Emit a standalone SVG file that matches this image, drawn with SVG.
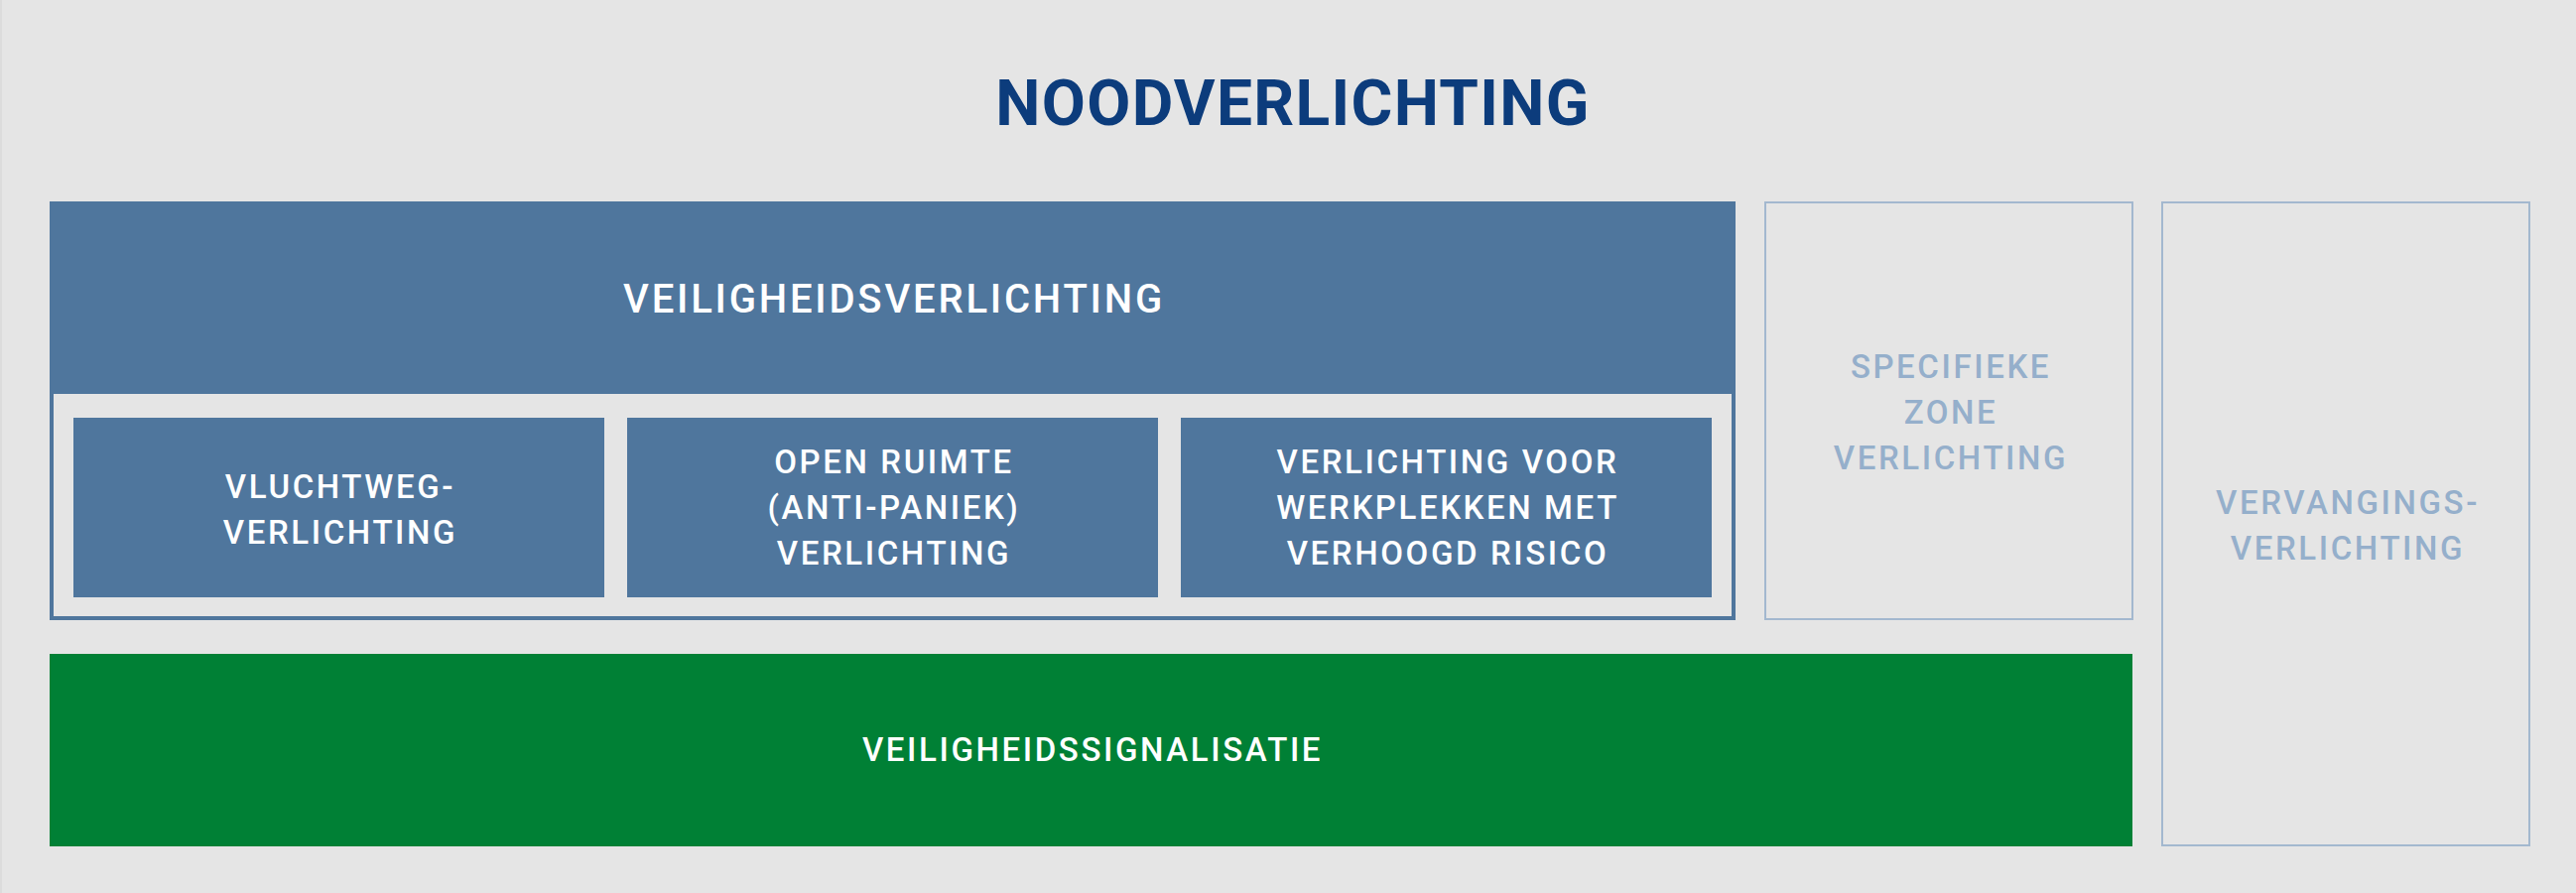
<svg xmlns="http://www.w3.org/2000/svg" width="2596" height="900" viewBox="0 0 2596 900">
<style>
.t{font-family:Roboto,"Liberation Sans",sans-serif;text-anchor:middle}
.title{font-size:64px;font-weight:700;fill:#0c3c7c;letter-spacing:1.3px}
.hd{font-size:40px;font-weight:500;fill:#ffffff;letter-spacing:2.8px}
.sb{font-size:33px;font-weight:500;fill:#ffffff;letter-spacing:2.6px}
.lt{font-size:33px;font-weight:500;fill:#95afcb;letter-spacing:2.6px}
.blue{fill:#4f769d}
.lbox{fill:none;stroke:#a3b8cf;stroke-width:2}
</style>
<rect x="0" y="0" width="2596" height="900" fill="#e5e5e5"/>
<rect x="0" y="0" width="2" height="900" fill="#dcdcdc"/>
<g id="title">
<text class="t title" x="1303" y="126">NOODVERLICHTING</text>
</g>
<g id="veiligheidsverlichting">
<rect x="52" y="205" width="1695" height="418" fill="none" stroke="#4f769d" stroke-width="4"/>
<rect class="blue" x="50" y="203" width="1699" height="194"/>
<text class="t hd" x="901" y="315">VEILIGHEIDSVERLICHTING</text>
</g>
<g id="vluchtweg">
<rect class="blue" x="74" y="421" width="535" height="181"/>
<text class="t sb" x="343" y="501.5">VLUCHTWEG-</text>
<text class="t sb" x="343" y="547.5">VERLICHTING</text>
</g>
<g id="openruimte">
<rect class="blue" x="632" y="421" width="535" height="181"/>
<text class="t sb" x="901" y="477">OPEN RUIMTE</text>
<text class="t sb" x="901" y="523">(ANTI-PANIEK)</text>
<text class="t sb" x="901" y="569">VERLICHTING</text>
</g>
<g id="werkplekken">
<rect class="blue" x="1190" y="421" width="535" height="181"/>
<text class="t sb" x="1459" y="477">VERLICHTING VOOR</text>
<text class="t sb" x="1459" y="523">WERKPLEKKEN MET</text>
<text class="t sb" x="1459" y="569">VERHOOGD RISICO</text>
</g>
<g id="specifieke">
<rect class="lbox" x="1779" y="204" width="370" height="420"/>
<text class="t lt" x="1966" y="381">SPECIFIEKE</text>
<text class="t lt" x="1966" y="427">ZONE</text>
<text class="t lt" x="1966" y="473">VERLICHTING</text>
</g>
<g id="vervangings">
<rect class="lbox" x="2179" y="204" width="370" height="648"/>
<text class="t lt" x="2366" y="518">VERVANGINGS-</text>
<text class="t lt" x="2366" y="564">VERLICHTING</text>
</g>
<g id="signalisatie">
<rect x="50" y="659" width="2099" height="194" fill="#008035"/>
<text class="t sb" x="1101" y="767">VEILIGHEIDSSIGNALISATIE</text>
</g>
<g id="connectors"></g>
</svg>
